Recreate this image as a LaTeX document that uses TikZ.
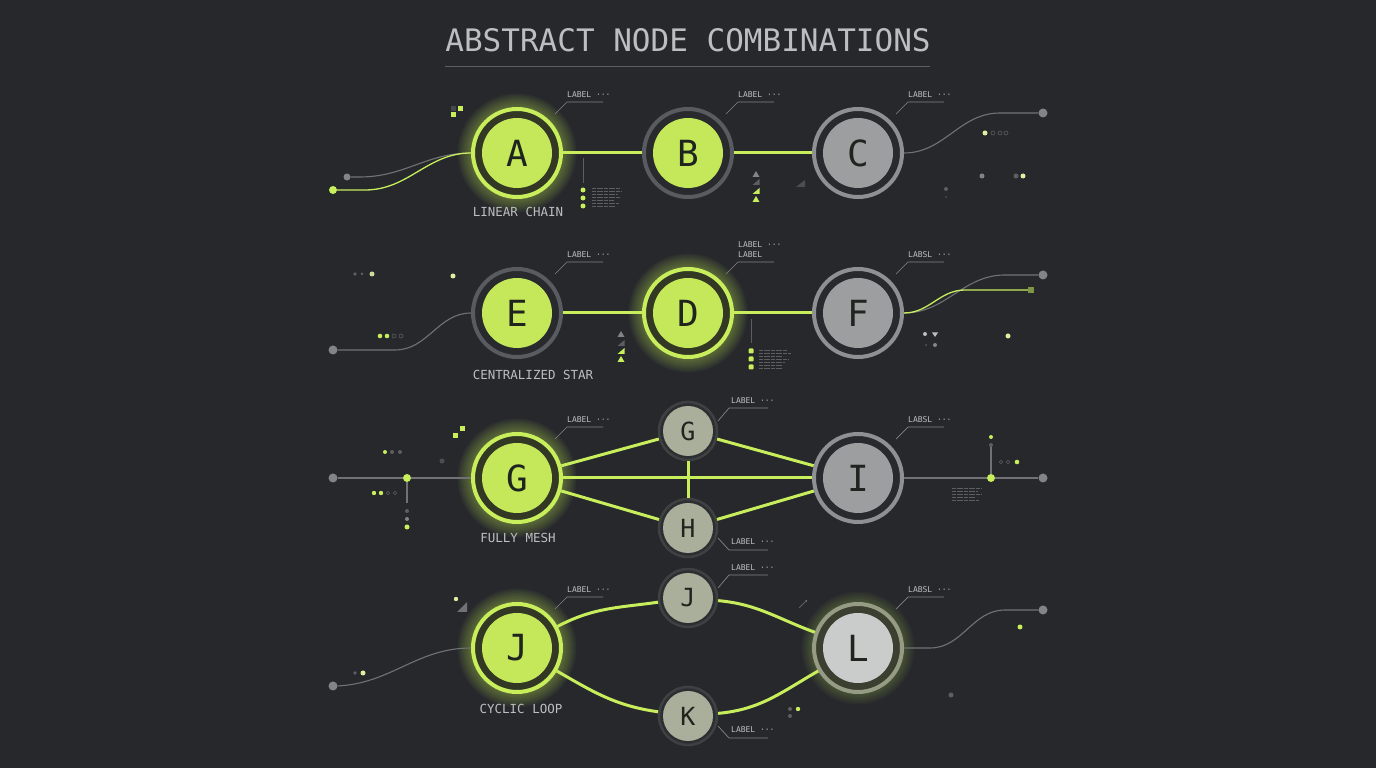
\documentclass[tikz,border=0pt]{standalone}
\usepackage{fontspec}
\newfontfamily\mono{DejaVu Sans Mono}
\usetikzlibrary{calc}
\definecolor{bg}{RGB}{38,40,44}
\definecolor{lime}{RGB}{200,238,92}
\definecolor{limefill}{RGB}{196,232,90}
\definecolor{olive}{RGB}{50,56,36}
\definecolor{gring}{RGB}{88,91,95}
\definecolor{ggap}{RGB}{40,42,46}
\definecolor{lring}{RGB}{142,144,147}
\definecolor{gfill}{RGB}{156,158,160}
\definecolor{sfill}{RGB}{170,175,156}
\definecolor{sring}{RGB}{62,65,66}
\definecolor{sgap}{RGB}{44,47,49}
\definecolor{Lring}{RGB}{150,156,132}
\definecolor{Lgap}{RGB}{58,63,48}
\definecolor{Lfill}{RGB}{202,204,203}
\definecolor{ink}{RGB}{32,36,30}
\definecolor{txt}{RGB}{188,190,192}
\definecolor{wire}{RGB}{112,114,118}
\definecolor{dgray}{RGB}{92,94,98}
\definecolor{mgray}{RGB}{130,132,136}
\definecolor{pale}{RGB}{222,240,160}
\newcommand\glowat[2]{\foreach \r in {46,47.5,...,60}{\fill[#2,opacity=0.045] (#1) circle (\r pt);}}
\newcommand\biglab[2]{\draw[leader] ($(#1)+(38,39)$) -- ++(12,12) -- ++(36,0);
  \node[lab,anchor=base west] (#1lab) at ($(#1)+(50,55)$) {#2};}
\newcommand\toplab[1]{\draw[leader] ($(#1)+(30,10)$) -- ++(11,13) -- ++(39,0);
  \node[lab,anchor=base west] (#1lab) at ($(#1)+(43,27)$) {LABEL ···};}
\newcommand\botlab[1]{\draw[leader] ($(#1)+(30,-10)$) -- ++(11,-12) -- ++(39,0);
  \node[lab,anchor=base west] (#1lab) at ($(#1)+(43,-17)$) {LABEL ···};}
\newcommand\tinytext[3]{% x, top Y, widths
  \foreach \w [count=\i] in {#3}{\draw[dgray,line width=0.45pt,dash pattern=on 4pt off 1pt on 6pt off 1pt] (#1,#2-3*\i) -- ++(\w,0);}}
\begin{document}
\begin{tikzpicture}[x=1pt,y=1pt,
  bignode/.style n args={3}{circle,minimum size=88pt,inner sep=0pt,draw=#1,line width=4pt,fill=#3,
     path picture={\fill[#2] (path picture bounding box.center) circle (35pt);},
     font=\mono\fontsize{36}{36}\selectfont,text=ink},
  smallnode/.style={circle,minimum size=58pt,inner sep=0pt,draw=sring,line width=2.5pt,fill=sgap,
     path picture={\fill[sfill] (path picture bounding box.center) circle (25pt);},
     font=\mono\fontsize{25}{25}\selectfont,text=ink},
  edge/.style={draw=lime,line width=3pt},
  limewire/.style={draw=lime,line width=1.3pt},
  graywire/.style={draw=wire,line width=1.1pt},
  leader/.style={draw=mgray,line width=0.7pt},
  lab/.style={font=\mono\fontsize{8}{9}\selectfont,text=txt,inner sep=0pt,align=left},
  rowlab/.style={font=\mono\fontsize{12.5}{13}\selectfont,text=txt,inner sep=0pt},
  enddot/.style={circle,inner sep=0pt,minimum size=#1,fill=mgray},
  enddot/.default=9,
  limedot/.style={circle,inner sep=0pt,minimum size=#1,fill=lime},
  limedot/.default=8]
\useasboundingbox (0,0) rectangle (1376,768);
\fill[bg] (0,0) rectangle (1376,768);

% title
\node[font=\mono\fontsize{31}{31}\selectfont,text=txt,inner sep=0pt] (title) at (688,728) {ABSTRACT NODE COMBINATIONS};
\draw[dgray,line width=0.8pt] (445,702) -- (930,702);

% glows
\glowat{517,615}{lime}
\glowat{688,455}{lime}
\glowat{517,290}{lime}
\glowat{517,120}{lime}
\foreach \r in {46,47.5,...,57}{\fill[lime,opacity=0.03] (858,120) circle (\r pt);}

% ---------- row 1: linear chain
\node[bignode={lime}{limefill}{olive}] (A) at (517,615) {A};
\node[bignode={gring}{limefill}{ggap}] (B) at (688,615) {B};
\node[bignode={lring}{gfill}{ggap}] (C) at (858,615) {C};
\draw[edge] (A) -- (B);
\draw[edge] (B) -- (C);
\biglab{A}{LABEL ···}
\biglab{B}{LABEL ···}
\biglab{C}{LABEL ···}
\node[rowlab] (r1name) at (518,556) {LINEAR CHAIN};
\node[limedot] (r1a) at (333,578) {};
\node[enddot=7] (r1b) at (347,591) {};
\draw[graywire] (r1b.east) -- (360,591) to[out=0,in=180] (A.west);
\draw[limewire] (r1a.east) -- (365,578) to[out=0,in=180] (A.west);
\fill[lime] (458,657) rectangle +(5,5);
\fill[lime] (451,651) rectangle +(5,5);
\fill[dgray!60!bg] (451,657) rectangle +(5,5);
\draw[dgray,line width=1pt] (583,610) -- (583,585);
\foreach \yy in {578,570,562}{\fill[lime] (583,\yy) circle (2.5pt);}
\tinytext{592}{583}{28,30,26,29,22,27,24}
\fill[mgray] (752.5,591) -- (759.5,591) -- (756,597) -- cycle;
\fill[dgray] (752.5,583) -- (759.5,583) -- (759.5,589) -- cycle;
\fill[lime] (752.5,574) -- (759.5,574) -- (759.5,580) -- cycle;
\fill[lime] (752.5,566) -- (759.5,566) -- (756,572) -- cycle;
\fill[dgray!70!bg] (796,581) -- (805,581) -- (805,588) -- cycle;
\node[enddot] (r1c) at (1043,655) {};
\draw[graywire] (C.east) to[out=0,in=180] (1000,655) -- (r1c.west);
\fill[pale] (985,635) circle (2.5pt);
\foreach \xx in {993,1000,1006}{\draw[dgray,line width=0.6pt] (\xx,635) circle (2pt);}
\fill[mgray] (982,592) circle (2.5pt);
\fill[dgray] (1016,592) circle (2.5pt);
\fill[pale] (1023,592) circle (2.5pt);
\fill[dgray] (946,579) circle (2pt);
\fill[dgray] (946,571) circle (0.8pt);

% ---------- row 2: centralized star
\node[bignode={gring}{limefill}{ggap}] (E) at (517,455) {E};
\node[bignode={lime}{limefill}{olive}] (D) at (688,455) {D};
\node[bignode={lring}{gfill}{ggap}] (F) at (858,455) {F};
\draw[edge] (E) -- (D);
\draw[edge] (D) -- (F);
\biglab{E}{LABEL ···}
\draw[leader] ($(D)+(38,39)$) -- ++(12,12) -- ++(36,0);
\node[lab,anchor=base west] (Dlab) at ($(D)+(50,55)$) {LABEL};
\node[lab,anchor=base west] (Dlab2) at ($(D)+(50,65)$) {LABEL ···};
\biglab{F}{LABSL ···}
\node[rowlab] (r2name) at (533,393) {CENTRALIZED STAR};
\node[enddot] (r2a) at (333,418) {};
\draw[graywire] (r2a.east) -- (395,418) to[out=0,in=180] (E.west);
\fill[lime] (380,432) circle (2.3pt);
\fill[lime] (387,432) circle (2.3pt);
\draw[dgray,line width=0.6pt] (394,432) circle (2pt);
\draw[dgray,line width=0.6pt] (401,432) circle (2pt);
\fill[dgray] (355,494) circle (1.8pt);
\fill[dgray] (362,494) circle (1.5pt);
\fill[pale!80!gray] (372,494) circle (2.5pt);
\fill[pale] (453,492) circle (2.5pt);
\fill[mgray] (617.5,431) -- (624.5,431) -- (621,437) -- cycle;
\fill[dgray] (617.5,422) -- (624.5,422) -- (624.5,428) -- cycle;
\fill[lime] (617.5,414) -- (624.5,414) -- (624.5,420) -- cycle;
\fill[lime] (617.5,406) -- (624.5,406) -- (621,412) -- cycle;
\draw[dgray,line width=1pt] (751,449) -- (751,425);
\foreach \yy in {417,409,401}{\fill[lime,rounded corners=1pt] (748.5,\yy-2.5) rectangle +(5,5);}
\tinytext{759}{421}{28,32,24,30,26,23,24}
\node[fill=lime!55!bg,inner sep=0pt,minimum size=6pt] (r2sq) at (1031,478) {};
\node[enddot] (r2b) at (1043,493) {};
\draw[graywire] (F.east) to[out=0,in=180] (1005,493) -- (r2b.west);
\draw[limewire] (F.east) to[out=0,in=180] (965,478) -- (r2sq.west);
\fill[txt] (925,434) circle (2pt);
\fill[txt] (932,435.5) -- (938,435.5) -- (935,431) -- cycle;
\fill[dgray] (926,423) circle (1pt);
\fill[mgray] (935,423) circle (2pt);
\fill[pale] (1008,432) circle (2.5pt);

% ---------- row 3: fully mesh
\node[bignode={lime}{limefill}{olive}] (G) at (517,290) {G};
\node[smallnode] (sG) at (688,337) {G};
\node[smallnode] (H) at (688,240) {H};
\node[bignode={lring}{gfill}{ggap}] (I) at (858,290) {I};
\draw[edge] (G) -- (I);
\draw[edge] (G) -- (sG);
\draw[edge] (G) -- (H);
\draw[edge] (sG) -- (I);
\draw[edge] (H) -- (I);
\draw[edge] (sG) -- (H);
\biglab{G}{LABEL ···}
\toplab{sG}
\botlab{H}
\biglab{I}{LABSL ···}
\node[rowlab] (r3name) at (518,230) {FULLY MESH};
\node[enddot] (r3a) at (333,290) {};
\node[limedot] (r3j) at (407,290) {};
\draw[graywire] (r3a.east) -- (r3j.west);
\draw[graywire] (r3j.east) -- (G.west);
\draw[graywire] (r3j.south) -- (407,265);
\fill[dgray] (407,257) circle (2pt);
\fill[mgray] (407,249) circle (2pt);
\fill[lime] (407,241) circle (2.5pt);
\fill[lime] (385,316) circle (2pt);
\fill[dgray] (392,316) circle (2pt);
\fill[dgray] (400,316) circle (2pt);
\fill[lime] (374,275) circle (2.2pt);
\fill[lime] (381,275) circle (2.2pt);
\draw[dgray,line width=0.6pt] (388,275) circle (1.8pt);
\draw[dgray,line width=0.6pt] (395,275) circle (1.8pt);
\fill[dgray!70!bg] (442,307) circle (2.5pt);
\fill[lime] (460,337) rectangle +(5,5);
\fill[lime] (453,330) rectangle +(5,5);
\node[enddot] (r3b) at (1043,290) {};
\node[limedot] (r3k) at (991,290) {};
\draw[graywire] (I.east) -- (r3k.west);
\draw[graywire] (r3k.east) -- (r3b.west);
\draw[graywire] (r3k.north) -- (991,323);
\fill[dgray] (991,323) circle (2pt);
\fill[lime] (991,331) circle (2pt);
\draw[dgray,line width=0.6pt] (1001,306) circle (1.8pt);
\draw[dgray,line width=0.6pt] (1008,306) circle (1.8pt);
\fill[lime] (1017,306) circle (2.3pt);
\tinytext{952}{283}{30,26,30,24,27}

% ---------- row 4: cyclic loop
\node[bignode={lime}{limefill}{olive}] (J) at (517,120) {J};
\node[smallnode] (sJ) at (688,170) {J};
\node[smallnode] (K) at (688,52) {K};
\node[bignode={Lring}{Lfill}{Lgap}] (L) at (858,120) {L};
\draw[edge] (J) to[out=28,in=188] (sJ);
\draw[edge] (sJ) to[out=-5,in=160] (L);
\draw[edge] (J) to[out=-30,in=172] (K);
\draw[edge] (K) to[out=5,in=-150] (L);
\biglab{J}{LABEL ···}
\toplab{sJ}
\botlab{K}
\biglab{L}{LABSL ···}
\node[rowlab] (r4name) at (521,59) {CYCLIC LOOP};
\node[enddot] (r4a) at (333,82) {};
\draw[graywire] (r4a.east) to[out=3,in=180] (J.west);
\fill[dgray] (355,95) circle (1.8pt);
\fill[pale] (363,95) circle (2.5pt);
\fill[pale] (456,169) circle (2.2pt);
\fill[mgray!80!bg] (457,156) -- (467,156) -- (467,166) -- cycle;
\node[enddot] (r4b) at (1043,158) {};
\draw[graywire] (L.east) -- (930,120) to[out=0,in=180] (1005,158) -- (r4b.west);
\fill[lime] (1020,141) circle (2.5pt);
\fill[dgray] (951,73) circle (2.5pt);
\fill[dgray] (790,59) circle (2pt);
\fill[dgray] (790,52) circle (2pt);
\fill[lime] (798,59) circle (2.2pt);
\draw[dgray,line width=1pt] (799,160) -- (805,166);
\fill[mgray] (806,167) circle (1pt);
\end{tikzpicture}
\end{document}
